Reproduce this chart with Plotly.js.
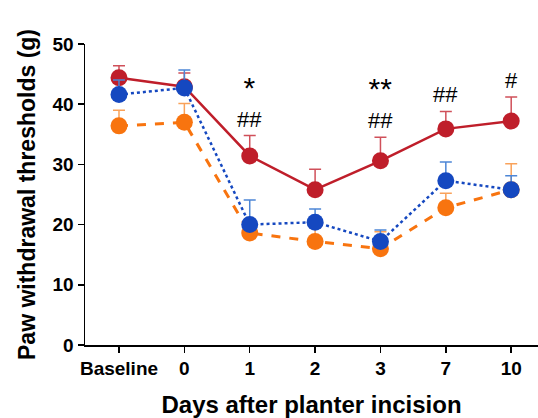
<!DOCTYPE html>
<html>
<head>
<meta charset="utf-8">
<script src="https://cdn.plot.ly/plotly-3.0.1.min.js"></script>
<style>html,body{margin:0;padding:0;background:#fff;}#chart{width:538px;height:418px;}</style>
</head>
<body>
<div id="chart"></div>
<script>
const categories = ["Baseline", "0", "1", "2", "3", "7", "10"];
const redMean = [44.4, 42.9, 31.4, 25.8, 30.6, 35.9, 37.2];
const redErr = [2.0, 2.3, 3.4, 3.4, 3.9, 2.9, 4.0];
const blueMean = [41.6, 42.7, 20.0, 20.4, 17.2, 27.3, 25.8];
const blueErr = [2.4, 3.0, 4.1, 2.2, 1.9, 3.1, 2.3];
const orangeMean = [36.4, 37.0, 18.6, 17.2, 16.0, 22.8, 25.8];
const orangeErr = [2.6, 3.1, 1.5, 2.3, 2.8, 2.4, 4.3];
const sigLabels = ["", "", "*", "", "**", "", ""];
const hashLabels = ["", "", "##", "", "##", "##", "#"];

function trace(y, err, color, errColor, dash, width) {
  return {
    x: categories, y: y, type: "scatter", mode: "lines+markers",
    line: {color: color, width: width, dash: dash},
    marker: {color: color, size: 17},
    error_y: {type: "data", symmetric: false, array: err, arrayminus: err.map(() => 0),
      color: errColor, thickness: 1.5, width: 6},
    cliponaxis: false, showlegend: false
  };
}
const data = [
  trace(orangeMean, orangeErr, "#f8740f", "#f9a25a", "dash", 3),
  trace(redMean, redErr, "#bf1e2a", "#d0505a", "solid", 2.5),
  trace(blueMean, blueErr, "#1548c0", "#4d86d6", "dot", 2.5)
];

const annotations = [];
categories.forEach((c, i) => {
  const top = redMean[i] + redErr[i];
  if (!hashLabels[i]) return;
  const txt = sigLabels[i]
    ? "<span style='font-size:30px'>" + sigLabels[i] + "</span><br>" + hashLabels[i]
    : hashLabels[i];
  annotations.push({x: i, y: top, yref: "y", xref: "x", text: txt, showarrow: false,
    yanchor: "bottom", yshift: 2, align: "center",
    font: {family: "Liberation Sans, Arial", size: 22, color: "#000"}});
});

const layout = {
  width: 538, height: 418,
  margin: {l: 85, r: 0, t: 44, b: 73},
  paper_bgcolor: "#fff", plot_bgcolor: "#fff",
  font: {family: "Liberation Sans, Arial, sans-serif", color: "#000"},
  xaxis: {
    type: "category", range: [-0.52, 6.41],
    showgrid: false, zeroline: false, showline: true, linecolor: "#000", linewidth: 1.5,
    ticks: "outside", ticklen: 6, tickcolor: "#000", tickwidth: 1.5,
    tickfont: {size: 19, weight: "bold", color: "#000"},
    title: {text: "Days after planter incision", font: {size: 24, weight: "bold", color: "#000"}, standoff: 18}
  },
  yaxis: {
    range: [0, 50], dtick: 10,
    showgrid: false, zeroline: false, showline: true, linecolor: "#000", linewidth: 1.5,
    ticks: "outside", ticklen: 6, tickcolor: "#000", tickwidth: 1.5,
    tickfont: {size: 19, weight: "bold", color: "#000"},
    title: {text: "Paw withdrawal thresholds (g)", font: {size: 23, weight: "bold", color: "#000"}, standoff: 10}
  },
  annotations: annotations
};
Plotly.newPlot("chart", data, layout, {displayModeBar: false, staticPlot: true});
</script>
</body>
</html>
